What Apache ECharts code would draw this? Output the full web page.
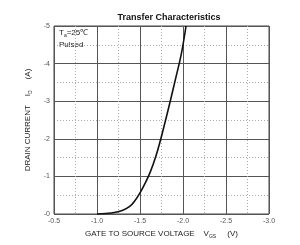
<!DOCTYPE html>
<html>
<head>
    <meta charset="utf-8" />
    <title>Transfer Characteristics</title>
    <style>
        html, body { margin: 0; padding: 0; background: #fff; }
        #chart { width: 300px; height: 245px; }
    </style>
</head>
<body>
    <div id="chart"></div>
    <script src="https://cdn.jsdelivr.net/npm/echarts@6/dist/echarts.min.js"></script>
    <script>
        // gate-source voltage (V) and drain current (A)
        var vgs = [-1.00, -1.10, -1.20, -1.30, -1.38, -1.44, -1.50, -1.56, -1.62, -1.68, -1.74, -1.80, -1.86, -1.92, -1.98, -2.035];
        var id = [0, -0.015, -0.04, -0.10, -0.20, -0.35, -0.56, -0.82, -1.12, -1.50, -1.98, -2.52, -3.08, -3.66, -4.25, -5.0];

        var pts = [];
        for (var i = 0; i < vgs.length; i++) pts.push([vgs[i], id[i]]);

        var chart = echarts.init(document.getElementById('chart'));
        chart.setOption({
            animation: false,
            title: {
                text: 'Transfer Characteristics',
                left: 164, top: 8, textAlign: 'center',
                textStyle: { fontFamily: 'Liberation Sans', fontSize: 9, fontWeight: 'bold', color: '#111' }
            },
            grid: { left: 54, right: 31, top: 26, bottom: 31, show: true, borderColor: '#444', borderWidth: 1 },
            xAxis: {
                type: 'value', inverse: true, min: -3, max: -0.5, interval: 0.5,
                name: '{t|GATE TO SOURCE VOLTAGE    V}{s|GS}{t|     (V)}',
                nameLocation: 'middle', nameGap: 15,
                nameTextStyle: {
                    rich: {
                        t: { fontFamily: 'Liberation Sans', fontSize: 8, color: '#222' },
                        s: { fontFamily: 'Liberation Sans', fontSize: 5, color: '#222', padding: [5, 0, 0, 0] }
                    }
                },
                axisLine: { show: false }, axisTick: { show: false },
                axisLabel: { fontFamily: 'Liberation Sans', fontSize: 7, color: '#555', margin: 4,
                    formatter: function (v) { return v.toFixed(1); } },
                splitLine: { lineStyle: { color: '#555', width: 1 } },
                minorTick: { show: true, splitNumber: 2, length: 0 },
                minorSplitLine: { show: true, lineStyle: { color: '#aaa', type: [1, 2], width: 1 } }
            },
            yAxis: {
                type: 'value', inverse: true, min: -5, max: 0, interval: 1,
                name: '{t|DRAIN CURRENT    I}{s|D}{t|     (A)}',
                nameLocation: 'middle', nameGap: 18, nameRotate: 90,
                nameTextStyle: {
                    rich: {
                        t: { fontFamily: 'Liberation Sans', fontSize: 8, color: '#222' },
                        s: { fontFamily: 'Liberation Sans', fontSize: 5, color: '#222', padding: [5, 0, 0, 0] }
                    }
                },
                axisLine: { show: false }, axisTick: { show: false },
                axisLabel: { fontFamily: 'Liberation Sans', fontSize: 7, color: '#555', margin: 4,
                    formatter: function (v) { return v === 0 ? '-0' : String(v); } },
                splitLine: { lineStyle: { color: '#555', width: 1 } },
                minorTick: { show: true, splitNumber: 2, length: 0 },
                minorSplitLine: { show: true, lineStyle: { color: '#aaa', type: [1, 2], width: 1 } }
            },
            graphic: [
                { type: 'text', left: 59, top: 29, style: {
                    text: '{t|T}{s|a}{t|=25℃}',
                    rich: {
                        t: { fontFamily: 'Liberation Sans', fontSize: 8, fill: '#222' },
                        s: { fontFamily: 'Liberation Sans', fontSize: 5, fill: '#222', padding: [5, 0, 0, 0] }
                    } } },
                { type: 'text', left: 59, top: 41, style: {
                    text: 'Pulsed', fontFamily: 'Liberation Sans', fontSize: 8, fill: '#222' } }
            ],
            series: [{
                type: 'line', data: pts, smooth: 0.4, showSymbol: false,
                lineStyle: { color: '#111', width: 1.6 }, clip: true
            }]
        });
    </script>
</body>
</html>
